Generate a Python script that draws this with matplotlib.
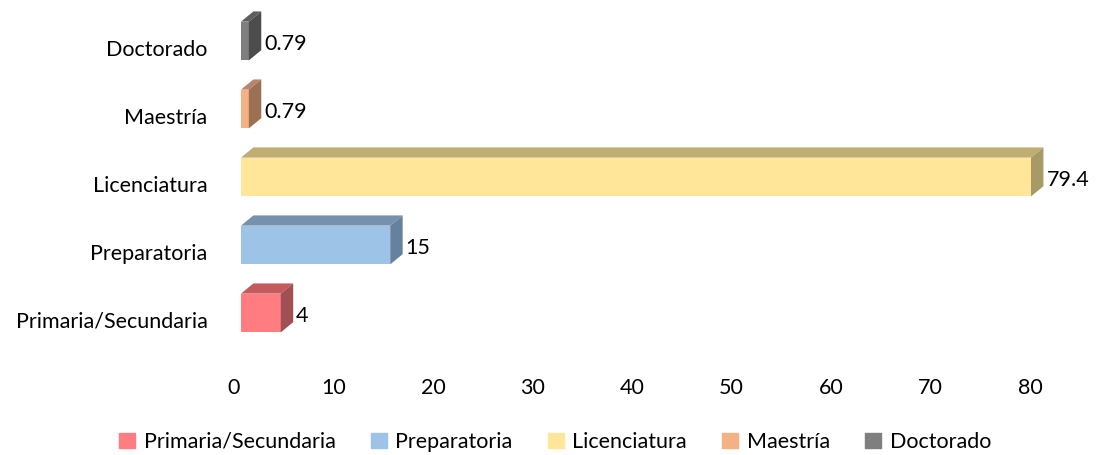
import matplotlib.pyplot as plt
from matplotlib.patches import Polygon, Patch

# data
categories = ['Primaria/Secundaria', 'Preparatoria', 'Licenciatura', 'Maestría', 'Doctorado']
values = [4, 15, 79.4, 0.79, 0.79]
value_labels = ['4', '15', '79.4', '0.79', '0.79']
x_ticks = [0, 10, 20, 30, 40, 50, 60, 70, 80]

# front / top / side shades for the fake 3D look
front_colors = ['#FF7C80', '#9DC3E6', '#FFE699', '#F4B183', '#7F7F7F']
top_colors = ['#C45A5E', '#7591AE', '#C0AD72', '#B8856A', '#5E5E5E']
side_colors = ['#A04F52', '#66819E', '#A89A66', '#9C7052', '#4C4C4C']

plt.rcParams['font.family'] = ['Lato', 'DejaVu Sans']
fs = 15.5

fig = plt.figure(figsize=(10.98, 4.55), dpi=100)
px_per_unit = 9.95
xmax = 82
ax_left = 234 / 1098
ax_w = xmax * px_per_unit / 1098
# y: categories 0..4 at 68 px spacing, top category centred at px 41
ax_top_px = 41 - 0.6 * 68
y_span = 5.2 * 68
ax_bottom = 1 - (ax_top_px + y_span) / 455
ax = fig.add_axes([ax_left, ax_bottom, ax_w, y_span / 455])
ax.set_xlim(0, xmax)
ax.set_ylim(-0.6, 4.6)

x0 = 0.7      # bars start slightly right of the tick origin
h = 0.57      # front face height
dx = 1.25     # depth in x
dy = 0.15     # depth in y

for i, v in enumerate(values):
    ax.barh(i, v, height=h, left=x0, color=front_colors[i], edgecolor='none', zorder=2)
    xl, xr = x0, x0 + v
    yt, yb = i + h / 2, i - h / 2
    top = Polygon([(xl, yt), (xr, yt), (xr + dx, yt + dy), (xl + dx, yt + dy)],
                  closed=True, color=top_colors[i], lw=0, zorder=2)
    side = Polygon([(xr, yb), (xr, yt), (xr + dx, yt + dy), (xr + dx, yb + dy)],
                   closed=True, color=side_colors[i], lw=0, zorder=2)
    ax.add_patch(top)
    ax.add_patch(side)
    ax.text(xr + dx + 0.3, i - 0.04, value_labels[i], va='center', ha='left',
            fontsize=fs, color='black')

ax.set_xticks(x_ticks)
ax.set_xticklabels([str(t) for t in x_ticks], fontsize=fs)
ax.set_yticks([i - 0.1 for i in range(len(categories))])
ax.set_yticklabels(categories, fontsize=fs)
ax.tick_params(axis='x', length=0, pad=17.5)
ax.tick_params(axis='y', length=0, pad=19)
for s in ax.spines.values():
    s.set_visible(False)

handles = [Patch(color=c, label=l) for c, l in zip(front_colors, categories)]
fig.legend(handles=handles, loc='center', ncol=5, frameon=False,
           fontsize=fs, bbox_to_anchor=(0.5055, 1 - 442 / 455), handlelength=0.75,
           handleheight=0.75, handletextpad=0.4, columnspacing=1.63)

fig.savefig('out.png', dpi=100)
